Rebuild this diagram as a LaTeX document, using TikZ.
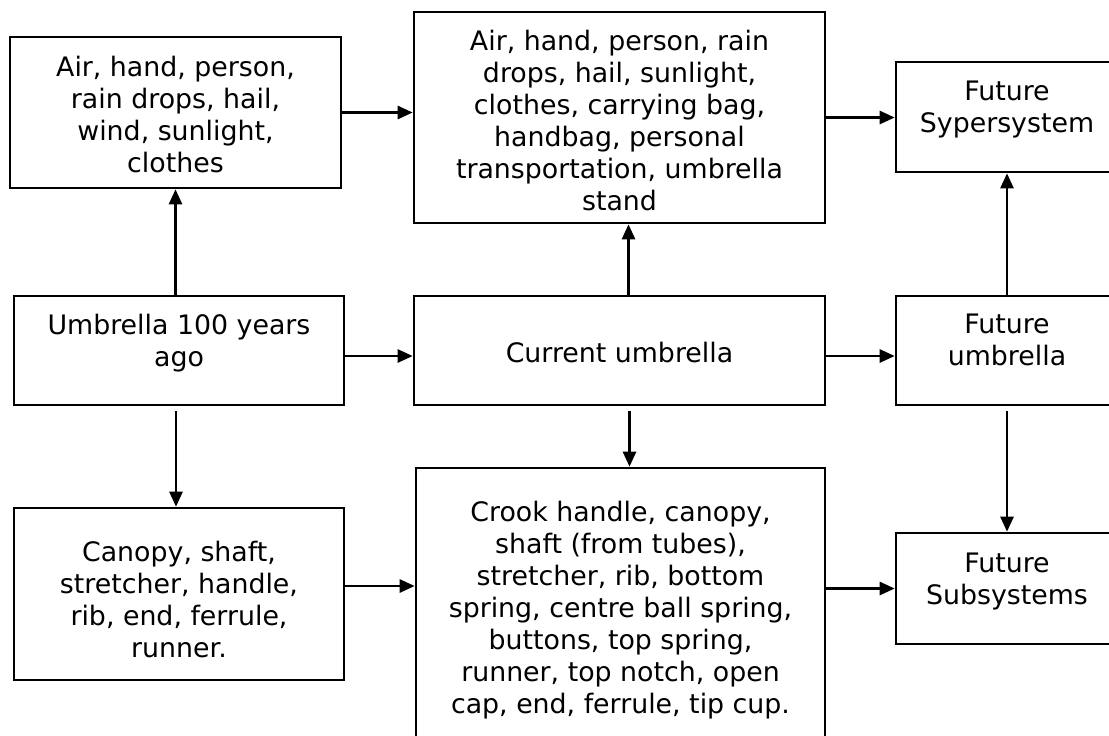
\documentclass[tikz,border=0pt]{standalone}
\usepackage{fontspec}
\setmainfont{DejaVu Sans}
\usepackage{tikz}
\usetikzlibrary{arrows,arrows.meta,positioning,calc,shapes}

\begin{document}
\begin{tikzpicture}[x=0.5pt,y=-0.5pt,
    box/.style={draw, line width=1.3pt, align=center, inner sep=0pt,
      font=\fontsize{13.4pt}{16pt}\selectfont},
    arr/.style={line width=1.3pt, -{Triangle[length=7.5pt,width=6.5pt]}},
    gap/.style={shorten <=2.5pt}]

  \useasboundingbox (0,0) rectangle (1109,735);
  \clip (0,0) rectangle (1109,735);

  % upper row
  \node[box, minimum width=165.5pt, minimum height=75.5pt, text height=60pt] (old super) at (175.5,112.5)
  {Air, hand, person,\\ rain drops, hail,\\ wind, sunlight,\\ clothes};
  \node[box, minimum width=205.5pt, minimum height=105.5pt, text height=93pt] (cur super) at (619.5,117.5)
  {Air, hand, person, rain\\ drops, hail, sunlight,\\ clothes, carrying bag,\\ handbag, personal\\ transportation, umbrella\\ stand};
  \node[box, minimum width=111pt, minimum height=55pt, text depth=10.7pt] (fut super) at (1007,117)
  {Future\\ Sypersystem};

  % middle row
  \node[box, minimum width=165pt, minimum height=54.5pt, text depth=10.2pt] (old) at (179,350.5)
  {Umbrella 100 years\\ ago};
  \node[box, minimum width=205.5pt, minimum height=54.5pt, text height=12pt] (cur) at (619.5,350.5)
  {Current umbrella};
  \node[box, minimum width=111pt, minimum height=54.5pt, text depth=10.7pt] (fut) at (1007,350.5)
  {Future\\ umbrella};

  % lower row
  \node[box, minimum width=165pt, minimum height=86pt, text height=64pt] (old sub) at (179,594)
  {Canopy, shaft,\\ stretcher, handle,\\ rib, end, ferrule,\\ runner.};
  \node[box, minimum width=204.5pt, minimum height=142pt] (cur sub) at (620.5,610)
  {Crook handle, canopy,\\ shaft (from tubes),\\ stretcher, rib, bottom\\ spring, centre ball spring,\\ buttons, top spring,\\ runner, top notch, open\\ cap, end, ferrule, tip cup.};
  \node[box, minimum width=111pt, minimum height=55.5pt, text depth=9.7pt] (fut sub) at (1007,588.5)
  {Future\\ Subsystems};

  % horizontal
  \draw[arr] (old super.east) -- (old super.east -| cur super.west);
  \draw[arr] (cur super.east) -- (cur super.east -| fut super.west);
  \draw[arr] ([yshift=-2.75pt]old.east) -- ([yshift=-2.75pt]cur.west);
  \draw[arr] ([yshift=-2.75pt]cur.east) -- ([yshift=-2.75pt]fut.west);
  \draw[arr] ([yshift=4pt]old sub.east) -- ([yshift=4pt]old sub.east -| cur sub.west);
  \draw[arr] (fut sub.west -| cur sub.east) -- (fut sub.west);

  % vertical
  \draw[arr] (old super.south |- old.north) -- (old super.south);
  \draw[arr] ([xshift=4.5pt]cur.north) -- ([xshift=4.5pt]cur.north |- cur super.south);
  \draw[arr] (fut.north) -- (fut.north |- fut super.south);
  \draw[arr, gap] ([xshift=-1.5pt]old.south) -- ([xshift=-1.5pt]old.south |- old sub.north);
  \draw[arr, gap] ([xshift=5pt]cur.south) -- ([xshift=5pt]cur.south |- cur sub.north);
  \draw[arr, gap] (fut.south) -- (fut sub.north);
\end{tikzpicture}
\end{document}
